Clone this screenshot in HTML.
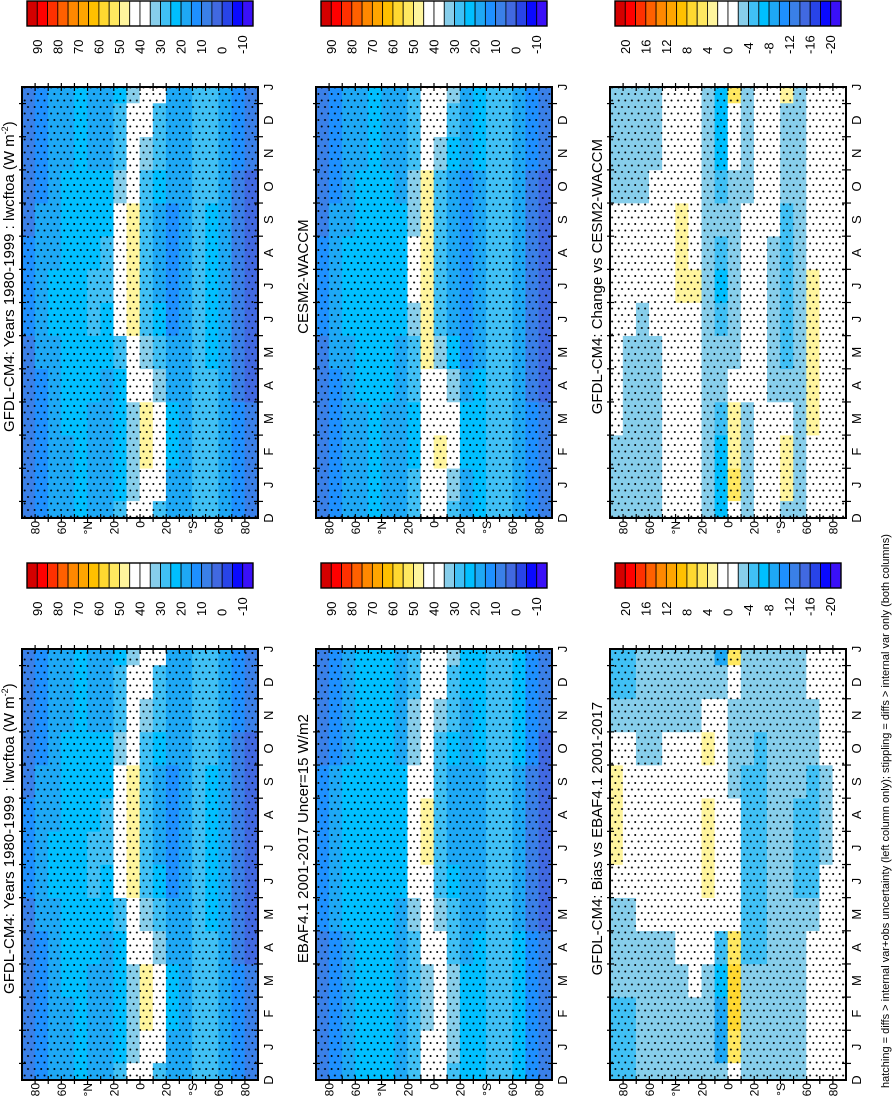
<!DOCTYPE html>
<html><head><meta charset="utf-8">
<style>
html,body{margin:0;padding:0;background:#fff;}
svg{display:block;font-family:"Liberation Sans",Arial,sans-serif;}
</style></head>
<body>
<svg id="fig" xmlns="http://www.w3.org/2000/svg" width="895" height="1100" viewBox="0 0 895 1100">
<defs>
<pattern id="stip" x="0" y="0" width="6.6" height="13" patternUnits="userSpaceOnUse">
<circle cx="1.6" cy="3" r="1.0" fill="#000"/>
<circle cx="4.9" cy="9.5" r="1.0" fill="#000"/>
</pattern>
</defs>
</svg>
<script>
// ---- data ----
const latCenters = [85,75,65,55,45,35,25,15,5,-5,-15,-25,-35,-45,-55,-65,-75,-85];
const monthLabels = ['D','J','F','M','A','M','J','J','A','S','O','N','D','J'];
const latTickLabels = ['80','60','°N','20','0','20','°S','60','80'];
const latTickValues = [80,60,40,20,0,-20,-40,-60,-80];
const meanCbLabels = ['90','80','70','60','50','40','30','20','10','0','-10'];
const diffCbLabels = ['20','16','12','8','4','0','-4','-8','-12','-16','-20'];
const cbColors = ['#d40000','#ff0000','#ff3000','#ff6000','#ff8800','#ffa500','#ffc000','#ffd830','#ffe860','#fff59d','#ffffff','#ffffff','#87ceeb','#40c0f5','#00bfff','#1ea8f5','#1e90ff','#3a80e8','#4169e1','#2844e8','#0a0aff','#3a10f8'];

const gfdlMean = [
[8,8,8,8,10,12,12,12,10,8,8,8],
[12,12,12,14,16,18,18,18,16,14,12,12],
[18,18,18,18,20,22,22,20,20,18,18,18],
[20,20,22,22,24,24,24,22,22,22,20,20],
[22,22,22,24,24,24,24,24,24,24,22,22],
[20,20,20,22,24,26,26,24,22,22,20,20],
[18,18,18,20,22,24,26,26,24,22,20,18],
[24,22,22,24,30,36,38,38,36,32,28,26],
[34,32,32,36,42,46,47,47,46,44,40,38],
[42,46,46,40,34,30,28,28,28,30,34,38],
[36,40,40,34,26,22,20,20,20,22,26,30],
[20,22,22,20,16,14,14,14,14,16,18,20],
[20,20,20,20,18,18,18,18,18,18,20,20],
[26,26,26,26,26,26,26,26,26,26,26,26],
[26,26,26,26,24,24,24,24,24,26,26,26],
[20,20,20,18,16,16,16,16,18,18,20,20],
[12,12,12,10,8,8,8,8,8,10,12,12],
[6,6,6,4,4,4,4,4,4,4,6,6]];

const cesmMean = [
[6,6,6,8,10,12,12,12,10,8,6,6],
[12,12,12,14,16,18,18,18,16,14,12,12],
[18,18,18,20,20,22,22,22,20,18,18,18],
[20,20,20,22,22,24,24,22,22,22,20,20],
[22,22,22,22,24,24,24,24,24,22,22,22],
[20,20,20,22,22,24,24,24,22,22,20,20],
[18,18,18,18,20,22,24,24,22,20,18,18],
[26,24,24,26,30,34,36,36,34,32,30,28],
[38,36,36,40,46,48,48,48,47,46,42,40],
[40,46,44,38,32,28,26,26,26,28,32,36],
[34,38,38,32,24,20,18,18,18,20,24,28],
[20,22,22,18,14,12,12,12,12,14,16,18],
[22,22,22,22,20,20,18,20,20,20,22,22],
[26,26,26,26,26,26,26,26,26,26,26,26],
[26,26,26,26,26,26,26,26,26,26,26,26],
[20,20,20,18,18,18,18,18,18,18,20,20],
[12,12,12,10,10,10,10,10,10,10,12,12],
[6,6,6,4,4,4,4,4,4,4,6,6]];

const ebafMean = [
[10,10,10,10,12,14,14,14,12,10,10,10],
[14,14,14,14,16,18,18,18,16,14,14,14],
[20,20,20,20,22,22,22,22,22,20,20,20],
[22,22,22,22,24,24,24,24,24,22,22,22],
[24,24,24,24,24,24,24,24,24,24,24,24],
[22,22,22,22,22,24,24,24,22,22,22,22],
[20,20,20,20,20,22,24,24,22,20,20,20],
[26,26,26,28,32,36,38,38,36,34,32,28],
[36,34,34,38,42,45,46,46,45,44,42,40],
[38,40,40,38,34,30,28,28,28,30,32,36],
[32,34,34,30,26,22,20,20,20,22,26,28],
[22,22,22,20,18,16,16,16,16,18,20,22],
[24,24,24,22,20,20,20,20,20,22,22,24],
[28,28,28,28,28,28,28,28,28,28,28,28],
[28,28,28,28,28,28,28,28,28,28,28,28],
[22,22,22,22,20,20,20,20,20,22,22,22],
[12,12,12,12,10,10,10,10,10,12,12,12],
[6,6,6,6,4,4,4,4,4,4,6,6]];

const changeDiff = [
[-2,-2,-1,0,0,0,0,0,0,-2,-3,-3],
[-2,-3,-3,-3,-2,-1,0,0,0,-3,-3,-3],
[-3,-3,-3,-3,-3,-2,0,0,-1,-3,-3,-3],
[-3,-3,-3,-2,-2,-1,0,0,0,-1,-2,-2],
[0,0,0,0,0,0,0,0,0,0,0,0],
[0,0,0,0,0,2,3,3,3,2,0,0],
[0,0,0,0,0,2,3,2,0,0,0,0],
[-3,-3,-2,-2,-2,-3,-3,-2,-2,-3,-3,-3],
[-6,-6,-5,-3,-3,-5,-6,-4,-3,-4,-6,-6],
[5,4,3,0,-3,-3,-2,-2,-2,-2,0,2],
[-3,-3,-2,0,-1,-1,0,0,0,-2,-2,-2],
[0,0,0,0,0,0,0,0,0,0,0,0],
[0,0,0,-2,-3,-3,-3,-2,-1,-1,0,0],
[3,3,0,-3,-4,-4,-4,-4,-4,-3,-3,-3],
[-3,-3,-3,-3,-3,-3,-3,-3,-3,-3,-3,-3],
[0,0,3,3,4,4,3,0,0,0,0,0],
[0,0,0,0,0,0,0,0,0,0,0,0],
[0,0,0,0,0,0,0,0,0,0,0,0]];

const biasDiff = [
[-4,-4,-3,-3,-2,2,3,3,3,-1,-3,-4],
[-4,-4,-3,-3,-2,0,1,1,0,-1,-3,-4],
[-3,-3,-3,-3,-1,0,0,0,0,-3,-3,-3],
[-3,-3,-3,-2,0,0,0,0,0,-2,-3,-3],
[-3,-3,-3,-2,0,0,0,0,0,0,-3,-3],
[-3,-3,-2,0,0,0,0,0,0,0,-2,-3],
[-3,-3,0,0,0,0,1,1,0,0,-2,-3],
[-3,-3,-2,0,2,3,3,3,2,3,0,-3],
[-8,-8,-6,-4,0,0,0,0,0,0,2,-3],
[6,8,8,6,2,0,0,0,-2,-3,-3,0],
[-2,-2,-3,-4,-4,-4,-4,-4,-4,-3,-3,-3],
[-3,-3,-3,-4,-4,-4,-4,-4,-4,-4,-3,-3],
[-3,-3,-3,-3,-3,-3,-3,-3,-3,-3,-3,-3],
[-3,-3,-3,-3,-3,-3,-3,-3,-3,-3,-3,-3],
[-2,-2,-2,-3,-3,-4,-4,-4,-3,-3,-2,-2],
[0,0,0,-1,-3,-4,-5,-5,-5,-3,-3,0],
[0,0,0,0,0,0,-3,-3,-3,0,0,0],
[0,0,0,0,0,0,0,0,0,0,0,0]];

// ---- layout ----
const NS='http://www.w3.org/2000/svg';
const svg=document.getElementById('fig');
const PW=236, PH=431;
function mk(tag, attrs, parent){const e=document.createElementNS(NS,tag);for(const k in attrs)e.setAttribute(k,attrs[k]);(parent||svg).appendChild(e);return e;}
function meanBox(v){let i=Math.floor((100-v)/5);return Math.max(1,Math.min(22,i));}
function diffBox(v){let i=Math.floor((24-v)/2);return Math.max(1,Math.min(22,i));}

const panels=[
 {s:0,top:87, data:gfdlMean, diff:false, title:'GFDL-CM4: Years 1980-1999 : lwcftoa (W m', sup:true, name:'gfdl-mean-top'},
 {s:0,top:649,data:gfdlMean, diff:false, title:'GFDL-CM4: Years 1980-1999 : lwcftoa (W m', sup:true, name:'gfdl-mean-bottom'},
 {s:1,top:87, data:cesmMean, diff:false, title:'CESM2-WACCM', name:'cesm-mean'},
 {s:1,top:649,data:ebafMean, diff:false, title:'EBAF4.1 2001-2017 Uncer=15 W/m2', name:'ebaf-mean'},
 {s:2,top:87, data:changeDiff, diff:true, title:'GFDL-CM4: Change vs CESM2-WACCM', name:'change-diff'},
 {s:2,top:649,data:biasDiff, diff:true, title:'GFDL-CM4: Bias vs EBAF4.1 2001-2017', name:'bias-diff'}
];

panels.forEach((p,pi)=>{
  const x0=22+294*p.s, y0=p.top, y1=y0+PH;
  const xLat=lat=>x0+(90-lat)/180*PW;
  const h=PH/13;
  const yK=k=>y1-k*h;
  const g=mk('g',{});
  
  
  const cp=mk('clipPath',{id:'cp'+pi});
  mk('rect',{x:x0,y:y0,width:PW,height:PH},cp);
  const cells=mk('g',{'clip-path':'url(#cp'+pi+')'},g);
  
  
  p.data.forEach((row,j)=>{
    const lat=latCenters[j];
    const xa=xLat(lat+5), xb=xLat(lat-5);
    row.forEach((v,m)=>{
      const ks=[m+1]; if(m===11)ks.push(0); if(m===0)ks.push(13);
      const col=cbColors[(p.diff?diffBox(v):meanBox(v))-1];
      ks.forEach(k=>{
        const r=mk('rect',{x:xa-0.3,y:yK(k)-h/2-0.3,width:xb-xa+0.6,height:h+0.6,fill:col},cells);
        
        
      });
    });
  });
  const st=mk('rect',{x:x0,y:y0,width:PW,height:PH,fill:'url(#stip)','clip-path':'url(#cp'+pi+')'},g);
  
  
  const fr=mk('rect',{x:x0,y:y0,width:PW,height:PH,fill:'none',stroke:'#000','stroke-width':2},g);
  
  
  for(let lat=-80;lat<=80;lat+=10){
    const x=xLat(lat);
    mk('line',{x1:x,x2:x,y1:y0-4,y2:y0+4,stroke:'#000','stroke-width':1.2},g);
    mk('line',{x1:x,x2:x,y1:y1-4,y2:y1+4,stroke:'#000','stroke-width':1.2},g);
  }
  latTickValues.forEach((lv,i)=>{
    const x=xLat(lv)+4.5;
    const t=mk('text',{x:x,y:y1+3,'font-size':12,'text-anchor':'end',transform:`rotate(-90 ${x} ${y1+3})`},g);
    t.textContent=latTickLabels[i];
    
    
  });
  for(let k=0;k<13;k++){
    const y=yK(k+0.5);
    mk('line',{x1:x0+PW-4,x2:x0+PW+5,y1:y,y2:y,stroke:'#000','stroke-width':1.2},g);
    mk('line',{x1:x0-3,x2:x0+4,y1:y,y2:y,stroke:'#000','stroke-width':1.2},g);
  }
  monthLabels.forEach((ml,k)=>{
    const x=x0+PW+15, y=yK(k);
    const t=mk('text',{x:x,y:y,'font-size':13,'text-anchor':'middle',transform:`rotate(-90 ${x} ${y})`},g);
    t.textContent=ml;
    
    
  });
  const tx=x0-8, ty=y1-PH*0.56;
  const tt=mk('text',{x:tx,y:ty,'font-size':15,'text-anchor':'middle',transform:`rotate(-90 ${tx} ${ty})`},g);
  tt.textContent=p.title;
  if(p.sup){const sp=mk('tspan',{'font-size':9,dy:-6},tt);sp.textContent='-2';const sp2=mk('tspan',{dy:6},tt);sp2.textContent=')';}
  
  

  const cx0=27+294*p.s, cy0=(p.top===87)?1:563, cw=226/22, ch=25;
  const cb=mk('g',{},svg);
  
  
  cbColors.forEach((c,i)=>{
    const r=mk('rect',{x:cx0+i*cw,y:cy0,width:cw,height:ch,fill:c,stroke:'#000','stroke-width':0.8},cb);
    
    
  });
  mk('rect',{x:cx0,y:cy0,width:226,height:ch,fill:'none',stroke:'#000','stroke-width':1.4},cb);
  const labs=p.diff?diffCbLabels:meanCbLabels;
  labs.forEach((l,i)=>{
    const x=cx0+(1+2*i)*cw+4.5, y=cy0+53;
    const t=mk('text',{x:x,y:y,'font-size':13,'text-anchor':'start',transform:`rotate(-90 ${x} ${y})`},cb);
    t.textContent=l;
    
    
  });
});
const fx=889, fy=1088;
const fn=mk('text',{x:fx,y:fy,'font-size':11,'text-anchor':'start',transform:`rotate(-90 ${fx} ${fy})`});
fn.textContent='hatching = diffs > internal var+obs uncertainty (left column only); stippling = diffs > internal var only (both columns)';


</script>
</body></html>
